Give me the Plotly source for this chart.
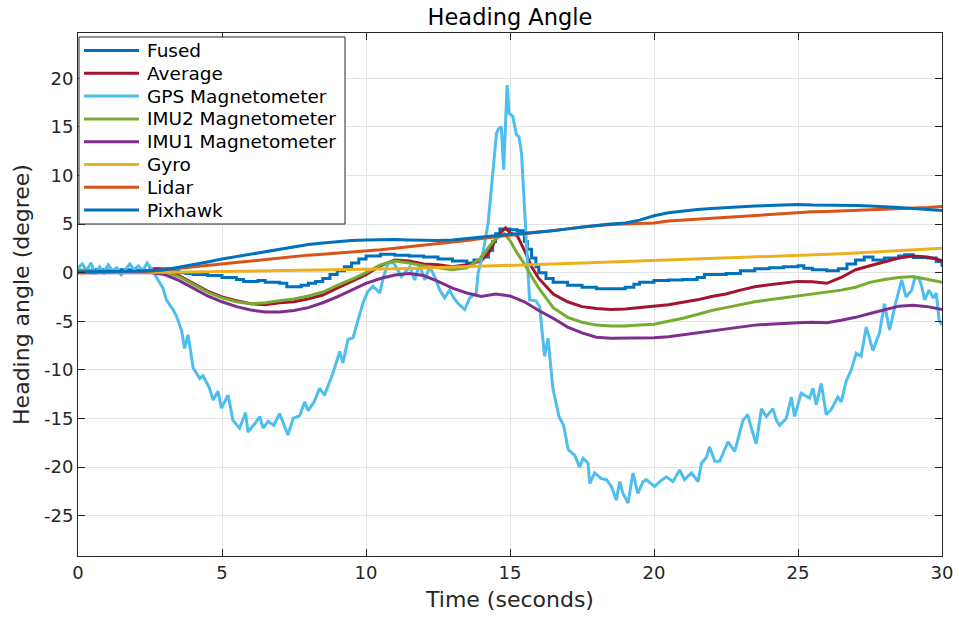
import plotly.graph_objects as go

# ---------------------------------------------------------------- data
# common 0.5 s time base for the smooth estimators
t_grid = [i * 0.5 for i in range(61)]

gyro = [
    0.00, 0.00, 0.00, 0.00, 0.00, 0.01, 0.02, 0.04, 0.06, 0.08,   # 0 - 4.5 s
    0.10, 0.12, 0.14, 0.16, 0.18, 0.20, 0.22, 0.24, 0.26, 0.28,   # 5 - 9.5 s
    0.31, 0.35, 0.39, 0.43, 0.47, 0.51, 0.55, 0.60, 0.64, 0.68,   # 10 - 14.5 s
    0.73, 0.78, 0.83, 0.88, 0.93, 0.98, 1.03, 1.08, 1.13, 1.18,   # 15 - 19.5 s
    1.23, 1.28, 1.33, 1.38, 1.43, 1.48, 1.53, 1.58, 1.63, 1.68,   # 20 - 24.5 s
    1.74, 1.80, 1.87, 1.94, 2.01, 2.08, 2.16, 2.24, 2.32, 2.40,   # 25 - 29.5 s
    2.50,
]

lidar = [
    0.00, 0.02, 0.05, 0.08, 0.10, 0.15, 0.30, 0.45, 0.60, 0.80,
    0.95, 1.10, 1.25, 1.40, 1.55, 1.70, 1.80, 1.90, 2.00, 2.10,
    2.20, 2.35, 2.50, 2.65, 2.80, 2.95, 3.10, 3.30, 3.50, 3.70,
    3.85, 4.00, 4.15, 4.30, 4.50, 4.70, 4.85, 4.95, 5.00, 5.05,
    5.10, 5.30, 5.40, 5.50, 5.60, 5.70, 5.80, 5.90, 6.00, 6.10,
    6.20, 6.25, 6.30, 6.35, 6.40, 6.45, 6.50, 6.55, 6.60, 6.70,
    6.80,
]

pixhawk = [
    0.10, 0.10, 0.10, 0.10, 0.15, 0.20, 0.30, 0.55, 0.80, 1.10,
    1.40, 1.65, 1.90, 2.20, 2.45, 2.70, 2.90, 3.05, 3.20, 3.30,
    3.35, 3.40, 3.40, 3.35, 3.30, 3.30, 3.35, 3.50, 3.65, 3.85,
    3.95, 4.05, 4.15, 4.30, 4.50, 4.70, 4.85, 5.00, 5.10, 5.40,
    5.85, 6.15, 6.35, 6.50, 6.60, 6.70, 6.80, 6.85, 6.90, 6.95,
    7.00, 6.95, 6.95, 6.90, 6.90, 6.85, 6.80, 6.70, 6.60, 6.50,
    6.40,
]

imu1 = [
    0.00, 0.00, 0.00, 0.00, 0.00, 0.00, -0.20, -0.80, -1.60, -2.40,
    -3.00, -3.50, -3.85, -4.05, -4.05, -3.90, -3.60, -3.10, -2.50, -1.80,
    -1.10, -0.60, -0.25, -0.10, -0.30, -0.90, -1.60, -2.10, -2.45, -2.20,
    -2.40, -3.00, -3.90, -4.70, -5.60, -6.20, -6.65, -6.75, -6.75, -6.75,
    -6.70, -6.60, -6.40, -6.20, -6.00, -5.75, -5.55, -5.40, -5.30, -5.20,
    -5.15, -5.10, -5.15, -4.90, -4.60, -4.20, -3.80, -3.45, -3.35, -3.50,
    -3.80,
]

avg_t = [
    0, 0.5, 1, 1.5, 2, 2.5, 2.8, 3.2, 3.5,
    4, 4.5, 5, 5.5, 6, 6.5, 7, 7.5, 8, 8.5, 9, 9.5,
    10, 10.5, 11, 11.5, 12, 12.5, 13, 13.5, 14,
    14.3, 14.5, 14.7, 14.85, 15, 15.25, 15.5, 15.75, 16,
    16.5, 17, 17.5, 18, 18.5, 19, 19.5, 20, 20.5, 21, 21.5, 22, 22.5, 23,
    23.5, 24, 24.5, 25, 25.5, 26, 26.5, 27, 27.5, 28, 28.5, 29, 29.5, 30,
]
average = [
    0.10, 0.00, 0.10, 0.00, 0.15, 0.25, 0.40, 0.10, -0.30,
    -1.10, -1.90, -2.50, -2.90, -3.20, -3.30, -3.10, -3.00, -2.70, -2.30, -1.60, -0.90,
    -0.20, 0.70, 1.30, 1.20, 0.90, 0.80, 0.60, 0.80, 1.20,
    2.20, 3.40, 4.20, 4.60, 4.10, 3.80, 2.30, 0.60, -0.60,
    -2.20, -3.00, -3.50, -3.70, -3.80, -3.75, -3.60, -3.45, -3.30, -3.05, -2.80, -2.45, -2.20, -1.80,
    -1.45, -1.25, -1.05, -0.90, -0.95, -1.10, -0.50, 0.30, 0.70, 1.10, 1.50, 1.70, 1.60, 1.25,
]

imu2_t = [
    0, 0.5, 1, 1.5, 2, 2.5, 3, 3.5, 4, 4.5,
    5, 5.5, 6, 6.5, 7, 7.5, 8, 8.5, 9, 9.5,
    10, 10.5, 11, 11.5, 12, 12.5, 13, 13.5, 14,
    14.3, 14.55, 14.8, 15, 15.25, 15.5, 15.75, 16,
    16.5, 17, 17.5, 18, 18.5, 19, 19.5, 20, 20.5, 21, 21.5, 22, 22.5, 23,
    23.5, 24, 24.5, 25, 25.5, 26, 26.5, 27, 27.5, 28, 28.5, 29, 29.5, 30,
]
imu2 = [
    0.30, 0.20, 0.10, 0.10, 0.10, 0.20, 0.10, -0.40, -1.20, -2.00,
    -2.60, -3.00, -3.20, -3.10, -2.90, -2.70, -2.40, -2.00, -1.30, -0.70,
    0.00, 0.80, 1.20, 1.00, 0.70, 0.50, 0.30, 0.50, 1.50,
    2.80, 3.60, 4.00, 3.30, 2.00, 0.90, -0.40, -1.60,
    -3.60, -4.60, -5.10, -5.40, -5.50, -5.50, -5.40, -5.30, -5.00, -4.70, -4.30, -3.90, -3.60, -3.30,
    -3.00, -2.80, -2.60, -2.40, -2.20, -2.00, -1.80, -1.50, -1.00, -0.70, -0.50, -0.40, -0.70, -1.00,
]

# fused estimate is updated at discrete instants (drawn as a staircase)
fused_t = [
    0, 0.5, 1, 1.5, 2, 2.5,
    3.25, 3.5, 3.75, 4, 4.5, 5, 5.5, 5.75,
    6.25, 6.5, 7, 7.25, 7.75, 8, 8.25, 8.5, 8.75, 9,
    9.25, 9.5, 9.75, 10, 10.5, 11, 11.5, 12, 12.5, 13,
    13.5, 13.75, 14, 14.25, 14.4, 14.5, 14.65, 15, 15.25, 15.5,
    15.6, 15.75, 15.9, 16, 16.25, 16.5, 17, 17.5, 18, 19,
    19.3, 19.5, 20, 20.5, 21, 21.5, 21.75, 22.5, 23, 23.5,
    24, 24.5, 25, 25.2, 25.5, 26, 26.4, 26.7, 27, 27.3,
    27.6, 28, 28.5, 28.7, 29, 29.5, 29.8, 30,
]
fused = [
    0.20, 0.30, 0.20, 0.30, 0.20, 0.40,
    0.20, 0.00, -0.10, -0.20, -0.30, -0.50, -0.70, -0.90,
    -0.80, -1.00, -1.10, -1.45, -1.30, -1.10, -0.90, -0.60, -0.20, 0.20,
    0.60, 1.00, 1.40, 1.70, 1.90, 1.80, 1.70, 1.60, 1.40, 1.20,
    1.00, 1.30, 1.60, 2.30, 3.20, 4.00, 4.50, 4.40, 4.30, 3.20,
    2.40, 1.50, 0.60, 0.00, -0.60, -1.00, -1.30, -1.50, -1.65, -1.50,
    -1.20, -1.00, -0.80, -0.75, -0.70, -0.50, -0.20, -0.10, 0.20, 0.40,
    0.50, 0.60, 0.70, 0.45, 0.30, 0.20, 0.40, 0.90, 1.30, 1.60,
    1.30, 1.50, 1.70, 1.85, 1.55, 1.50, 1.15, 0.60,
]

gps_t = [
    0.00, 0.15, 0.30, 0.45, 0.60, 0.75, 0.90, 1.05, 1.20, 1.35,
    1.50, 1.65, 1.80, 1.95, 2.10, 2.25, 2.40, 2.55, 2.70, 2.95,
    3.07, 3.30, 3.42, 3.60, 3.70, 3.82, 4.00, 4.23, 4.34, 4.57,
    4.69, 4.86, 4.98, 5.21, 5.38, 5.61, 5.82, 5.90, 6.15, 6.31,
    6.43, 6.60, 6.80, 7.00, 7.29, 7.47, 7.70, 7.87, 7.99, 8.20,
    8.39, 8.56, 8.74, 8.85, 9.09, 9.20, 9.37, 9.55, 9.72, 9.90,
    10.05, 10.24, 10.48, 10.60, 10.76, 10.94, 11.10, 11.23, 11.52, 11.69,
    11.86, 12.04, 12.21, 12.40, 12.56, 12.73, 12.90, 13.05, 13.19, 13.43,
    13.60, 13.83, 13.89, 14.06, 14.24, 14.40, 14.53, 14.60, 14.70, 14.78,
    14.90, 14.97, 15.10, 15.22, 15.31, 15.40, 15.45, 15.57, 15.68, 15.90,
    16.03, 16.20, 16.32, 16.49, 16.70, 16.86, 17.02, 17.25, 17.42, 17.54,
    17.71, 17.77, 17.94, 18.17, 18.35, 18.52, 18.69, 18.81, 18.92, 19.10,
    19.27, 19.44, 19.62, 19.73, 20.02, 20.20, 20.43, 20.66, 20.89, 21.06,
    21.30, 21.53, 21.65, 21.82, 21.93, 22.11, 22.28, 22.57, 22.80, 23.09,
    23.26, 23.38, 23.55, 23.73, 23.90, 24.13, 24.25, 24.36, 24.59, 24.77,
    24.88, 25.11, 25.40, 25.52, 25.63, 25.81, 25.98, 26.15, 26.38, 26.50,
    26.67, 26.85, 27.02, 27.19, 27.37, 27.60, 27.83, 28.00, 28.18, 28.40,
    28.60, 28.75, 28.95, 29.05, 29.20, 29.30, 29.40, 29.55, 29.70, 29.80,
    29.90, 30.00,
]
gps = [
    0.5, 0.9, 0.2, 1.0, -0.1, 0.6, 0.0, 0.8, 0.2, 0.5,
    -0.2, 0.4, 0.9, 0.3, 0.7, 0.2, 1.0, 0.4, -0.4, -1.6,
    -2.8, -3.8, -4.5, -6.0, -7.8, -6.4, -9.8, -10.9, -10.6, -11.9,
    -13.1, -12.2, -13.95, -12.6, -15.2, -16.0, -14.4, -16.4, -15.5, -14.8,
    -16.0, -15.3, -15.7, -14.5, -16.7, -15.0, -14.7, -13.3, -14.2, -13.3,
    -11.9, -12.6, -11.2, -10.35, -8.1, -9.3, -6.9, -6.7, -4.9, -3.1,
    -2.0, -1.4, -2.1, -0.5, 0.9, 1.1, 0.3, -0.4, 0.6, -0.75,
    0.8, -0.75, 0.6, -0.5, -1.8, -2.6, -1.8, -2.6, -3.15, -3.8,
    -2.6, -2.1, -0.1, 2.0, 5.1, 10.5, 14.3, 14.8, 15.0, 10.6,
    19.3, 16.4, 16.05, 14.2, 14.0, 12.3, 9.5, 4.05, -2.8, -2.9,
    -3.5, -8.6, -6.75, -11.9, -14.8, -15.7, -18.2, -18.8, -20.0, -19.1,
    -19.6, -21.7, -20.6, -21.2, -21.3, -22.0, -23.4, -21.5, -22.7, -23.7,
    -20.6, -22.7, -21.5, -21.3, -22.0, -21.5, -21.0, -21.5, -20.3, -21.3,
    -20.6, -21.5, -19.6, -19.0, -17.9, -19.4, -19.4, -17.4, -18.4, -15.2,
    -14.6, -16.0, -17.6, -14.0, -14.8, -14.0, -15.2, -15.7, -15.0, -12.8,
    -14.8, -12.4, -12.9, -11.9, -13.6, -11.4, -14.6, -14.1, -12.8, -13.3,
    -11.2, -10.0, -8.3, -8.6, -5.6, -8.0, -6.2, -3.2, -5.9, -3.0,
    -0.75, -2.5, -1.8, -0.6, -0.5, -1.5, -2.8, -1.8, -2.6, -2.1,
    -4.9, -5.4,
]

series_names = ["Fused", "Average", "GPS Magnetometer", "IMU2 Magnetometer",
                "IMU1 Magnetometer", "Gyro", "Lidar", "Pixhawk"]
series_colors = ["#0072BD", "#A2142F", "#4DBEEE", "#77AC30",
                 "#7E2F8E", "#EDB120", "#D95319", "#0072BD"]
series_x = [fused_t, avg_t, gps_t, imu2_t, t_grid, t_grid, t_grid, t_grid]
series_y = [fused, average, gps, imu2, imu1, gyro, lidar, pixhawk]
series_shape = ["hv", "linear", "linear", "linear", "linear", "linear", "linear", "linear"]

x_ticks = [0, 5, 10, 15, 20, 25, 30]
y_ticks = [-25, -20, -15, -10, -5, 0, 5, 10, 15, 20]

# ---------------------------------------------------------------- figure
W, H = 959, 617
ML, MR, MT, MB = 78, 17, 33, 61
PW, PH = W - ML - MR, H - MT - MB

fig = go.Figure()
for name, color, xs, ys, shape in zip(series_names, series_colors, series_x,
                                      series_y, series_shape):
    fig.add_trace(go.Scatter(x=xs, y=ys, name=name, mode="lines",
                             line=dict(color=color, width=3, shape=shape)))

FONT = "DejaVu Sans"
axis_common = dict(
    showgrid=True, gridcolor="#e3e3e3", gridwidth=1,
    zeroline=False, showline=True, linecolor="#262626", linewidth=1,
    mirror="allticks", ticks="inside", ticklen=7, tickcolor="#262626",
    tickfont=dict(family=FONT, size=18, color="#262626"),
)

fig.update_xaxes(range=[0, 30], tickvals=x_ticks,
                 ticktext=[str(v) for v in x_ticks],
                 title=dict(text="Time (seconds)", standoff=10,
                            font=dict(family=FONT, size=22, color="#262626")),
                 **axis_common)
fig.update_yaxes(range=[-29.15, 24.65], tickvals=y_ticks,
                 ticktext=[str(v) for v in y_ticks],
                 title=dict(text="Heading angle (degree)", standoff=8,
                            font=dict(family=FONT, size=22, color="#262626")),
                 **axis_common)


# legend drawn in pixel space of the page
def px(x):
    return (x - ML) / PW


def py(y):
    return (H - MB - y) / PH


shapes = [dict(type="rect", xref="paper", yref="paper",
               x0=px(79), x1=px(345), y0=py(224), y1=py(37),
               line=dict(color="#262626", width=1), fillcolor="white",
               layer="above")]
annotations = []
for i, (name, color) in enumerate(zip(series_names, series_colors)):
    yc = 50.5 + 22.8 * i
    shapes.append(dict(type="line", xref="paper", yref="paper",
                       x0=px(84), x1=px(139), y0=py(yc), y1=py(yc),
                       line=dict(color=color, width=3), layer="above"))
    annotations.append(dict(text=name, xref="paper", yref="paper",
                            x=px(145), y=py(yc), xanchor="left",
                            yanchor="middle", showarrow=False,
                            font=dict(family=FONT, size=18.5, color="#000000")))

fig.update_layout(
    width=W, height=H,
    margin=dict(l=ML, r=MR, t=MT, b=MB, autoexpand=False),
    plot_bgcolor="white", paper_bgcolor="white",
    showlegend=False,
    font=dict(family=FONT, color="#262626"),
    title=dict(text="Heading Angle", xref="paper", x=0.5, xanchor="center",
               yref="container", y=1 - 17 / H, yanchor="middle",
               font=dict(family=FONT, size=22.5, color="#000000")),
    shapes=shapes,
    annotations=annotations,
)

fig.write_html("out.html")
